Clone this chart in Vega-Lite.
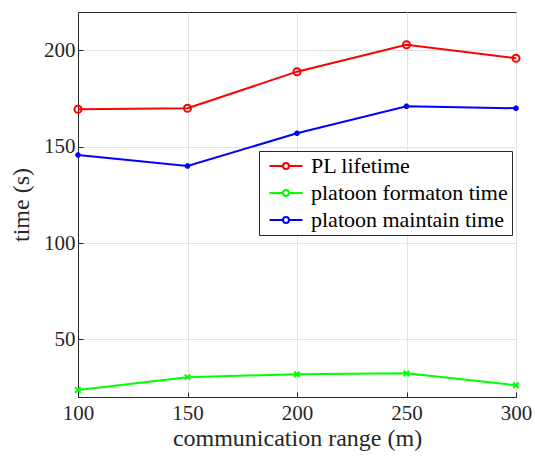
{
  "$schema": "https://vega.github.io/schema/vega-lite/v6.json",
  "width": 438,
  "height": 385,
  "autosize": {"type": "none"},
  "padding": {"left": 78, "top": 12, "right": 19, "bottom": 62},
  "background": "white",
  "config": {
    "font": "Liberation Serif, serif",
    "view": {"stroke": "#262626", "strokeWidth": 1},
    "axis": {
      "domainColor": "#262626",
      "gridColor": "#e3e3e3",
      "gridWidth": 1,
      "tickColor": "#262626",
      "tickSize": -5,
      "labelFont": "Liberation Serif, serif",
      "labelFontSize": 21,
      "labelColor": "#262626",
      "titleFont": "Liberation Serif, serif",
      "titleFontSize": 24,
      "titleFontWeight": "normal",
      "titleColor": "#262626"
    },
    "legend": {"labelFont": "Liberation Serif, serif"}
  },
  "data": {
    "values": [
      {"range": 100, "series": "PL lifetime", "time": 169.5},
      {"range": 150, "series": "PL lifetime", "time": 170},
      {"range": 200, "series": "PL lifetime", "time": 189},
      {"range": 250, "series": "PL lifetime", "time": 203},
      {"range": 300, "series": "PL lifetime", "time": 196},
      {"range": 100, "series": "platoon formaton time", "time": 23.6},
      {"range": 150, "series": "platoon formaton time", "time": 30.3},
      {"range": 200, "series": "platoon formaton time", "time": 31.8},
      {"range": 250, "series": "platoon formaton time", "time": 32.3},
      {"range": 300, "series": "platoon formaton time", "time": 26.1},
      {"range": 100, "series": "platoon maintain time", "time": 145.7},
      {"range": 150, "series": "platoon maintain time", "time": 140},
      {"range": 200, "series": "platoon maintain time", "time": 157},
      {"range": 250, "series": "platoon maintain time", "time": 171},
      {"range": 300, "series": "platoon maintain time", "time": 170}
    ]
  },
  "encoding": {
    "x": {
      "field": "range", "type": "quantitative",
      "scale": {"domain": [100, 300], "nice": false},
      "axis": {"values": [100, 150, 200, 250, 300], "title": "communication range (m)", "labelPadding": 10, "titleY": 29, "labelFlush": false}
    },
    "y": {
      "field": "time", "type": "quantitative",
      "scale": {"domain": [20, 220], "nice": false},
      "axis": {"values": [50, 100, 150, 200], "title": "time (s)", "labelPadding": 8, "titleX": -45}
    }
  },
  "layer": [
    {
      "mark": {"type": "line", "strokeWidth": 2},
      "encoding": {
        "color": {
          "field": "series", "type": "nominal",
          "scale": {"domain": ["PL lifetime", "platoon formaton time", "platoon maintain time"], "range": ["#ff0000", "#00ff00", "#0000ff"]},
          "legend": {
            "title": null,
            "orient": "none",
            "legendX": 181,
            "legendY": 139,
            "fillColor": "white",
            "strokeColor": "#262626",
            "padding": 4,
            "labelFontSize": 22,
            "labelFont": "Liberation Serif, serif",
            "labelColor": "#000000",
            "labelLimit": 400,
            "symbolType": "M-2,0H-0.36M0.36,0H2M0.36,0A0.36,0.36 0 1,1 -0.36,0A0.36,0.36 0 1,1 0.36,0",
            "symbolSize": 272,
            "symbolStrokeWidth": 2,
            "symbolOffset": 12,
            "rowPadding": 5,
            "labelOffset": 14
          }
        }
      }
    },
    {
      "transform": [{"filter": "datum.series === 'PL lifetime'"}],
      "mark": {"type": "point", "filled": false, "strokeWidth": 2, "size": 50, "opacity": 1, "color": "#ff0000", "shape": "circle"}
    },
    {
      "transform": [{"filter": "datum.series === 'platoon formaton time'"}],
      "mark": {"type": "point", "filled": false, "strokeWidth": 2, "size": 30, "opacity": 1, "color": "#00ff00", "shape": "M-1,-1L1,1M-1,1L1,-1"}
    },
    {
      "transform": [{"filter": "datum.series === 'platoon maintain time'"}],
      "mark": {"type": "point", "filled": false, "strokeWidth": 2.5, "size": 30, "opacity": 1, "color": "#0000ff", "shape": "M-1,0H1M0,-1V1M-0.7,-0.7L0.7,0.7M-0.7,0.7L0.7,-0.7"}
    }
  ]
}
